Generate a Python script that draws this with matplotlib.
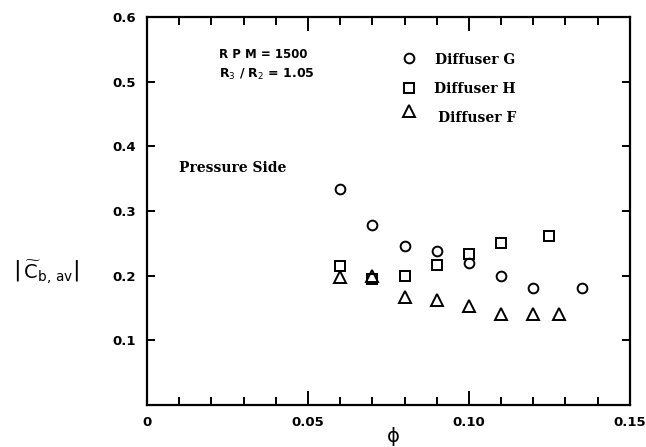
import numpy as np
import matplotlib
matplotlib.use('Agg')
import matplotlib.pyplot as plt
from matplotlib.ticker import MultipleLocator

# Data
phi_G = [0.06, 0.07, 0.08, 0.09, 0.10, 0.11, 0.12, 0.135]
cb_G = [0.334, 0.279, 0.245, 0.238, 0.220, 0.200, 0.181, 0.180]

phi_H = [0.06, 0.07, 0.08, 0.09, 0.10, 0.11, 0.125]
cb_H = [0.215, 0.194, 0.200, 0.217, 0.233, 0.251, 0.261]

phi_F = [0.06, 0.07, 0.08, 0.09, 0.10, 0.11, 0.12, 0.128]
cb_F = [0.198, 0.199, 0.166, 0.162, 0.152, 0.140, 0.140, 0.140]

x_ticks = [0, 0.05, 0.10, 0.15]
x_ticklabels = ['0', '0.05', '0.10', '0.15']
y_ticks = [0.1, 0.2, 0.3, 0.4, 0.5, 0.6]
y_ticklabels = ['0.1', '0.2', '0.3', '0.4', '0.5', '0.6']

fig = plt.figure(figsize=(6.46, 4.47), dpi=100)
ax = fig.add_axes([0.2276, 0.095, 0.7474, 0.866])

mk = dict(ls='none', mfc='none', mec='k', mew=1.4)
ax.plot(phi_G, cb_G, marker='o', ms=7, **mk)
ax.plot(phi_H, cb_H, marker='s', ms=6.5, **mk)
ax.plot(phi_F, cb_F, marker='^', ms=8, **mk)

ax.set_xlim(0, 0.15)
ax.set_ylim(0, 0.6)
for s in ax.spines.values():
    s.set_linewidth(1.6)

ax.set_xticks(x_ticks)
ax.set_xticklabels(x_ticklabels)
ax.xaxis.set_minor_locator(MultipleLocator(0.01))
ax.set_yticks(y_ticks)
ax.set_yticklabels(y_ticklabels)
ax.tick_params(which='both', direction='in', top=True, right=True, width=1.4)
ax.tick_params(which='major', length=10, labelsize=9.5, pad=8)
ax.tick_params(which='minor', length=6)
ax.tick_params(axis='y', which='major', length=6)
for lab in ax.get_xticklabels() + ax.get_yticklabels():
    lab.set_fontweight('bold')

fig.text(393 / 646, 1 - 436 / 447, 'ϕ', fontsize=14, ha='center', va='center')
fig.text(0.02, 0.39, r'$\left|\,\widetilde{\mathrm{C}}_{\mathrm{b,\,av}}\right|$',
         fontsize=14, ha='left', va='center')

# annotations
ax.text(0.0225, 0.542, 'R P M = 1500', fontsize=8.5, fontweight='bold', va='center')
ax.text(0.0225, 0.511, r'R$_3$ / R$_2$ = 1.05', fontsize=9, fontweight='bold', va='center')
ax.text(0.010, 0.367, 'Pressure Side', fontsize=10, fontweight='bold',
        family='DejaVu Serif', va='center')

leg_x = 0.0815
ax.plot([leg_x], [0.537], marker='o', ms=7, **mk)
ax.plot([leg_x], [0.491], marker='s', ms=6.5, **mk)
ax.plot([leg_x], [0.455], marker='^', ms=8, **mk)
ax.text(0.0895, 0.534, 'Diffuser G', fontsize=10, fontweight='bold', family='DejaVu Serif', va='center')
ax.text(0.0890, 0.489, 'Diffuser H', fontsize=10, fontweight='bold', family='DejaVu Serif', va='center')
ax.text(0.0905, 0.444, 'Diffuser F', fontsize=10, fontweight='bold', family='DejaVu Serif', va='center')

fig.savefig('out.png', dpi=100)
